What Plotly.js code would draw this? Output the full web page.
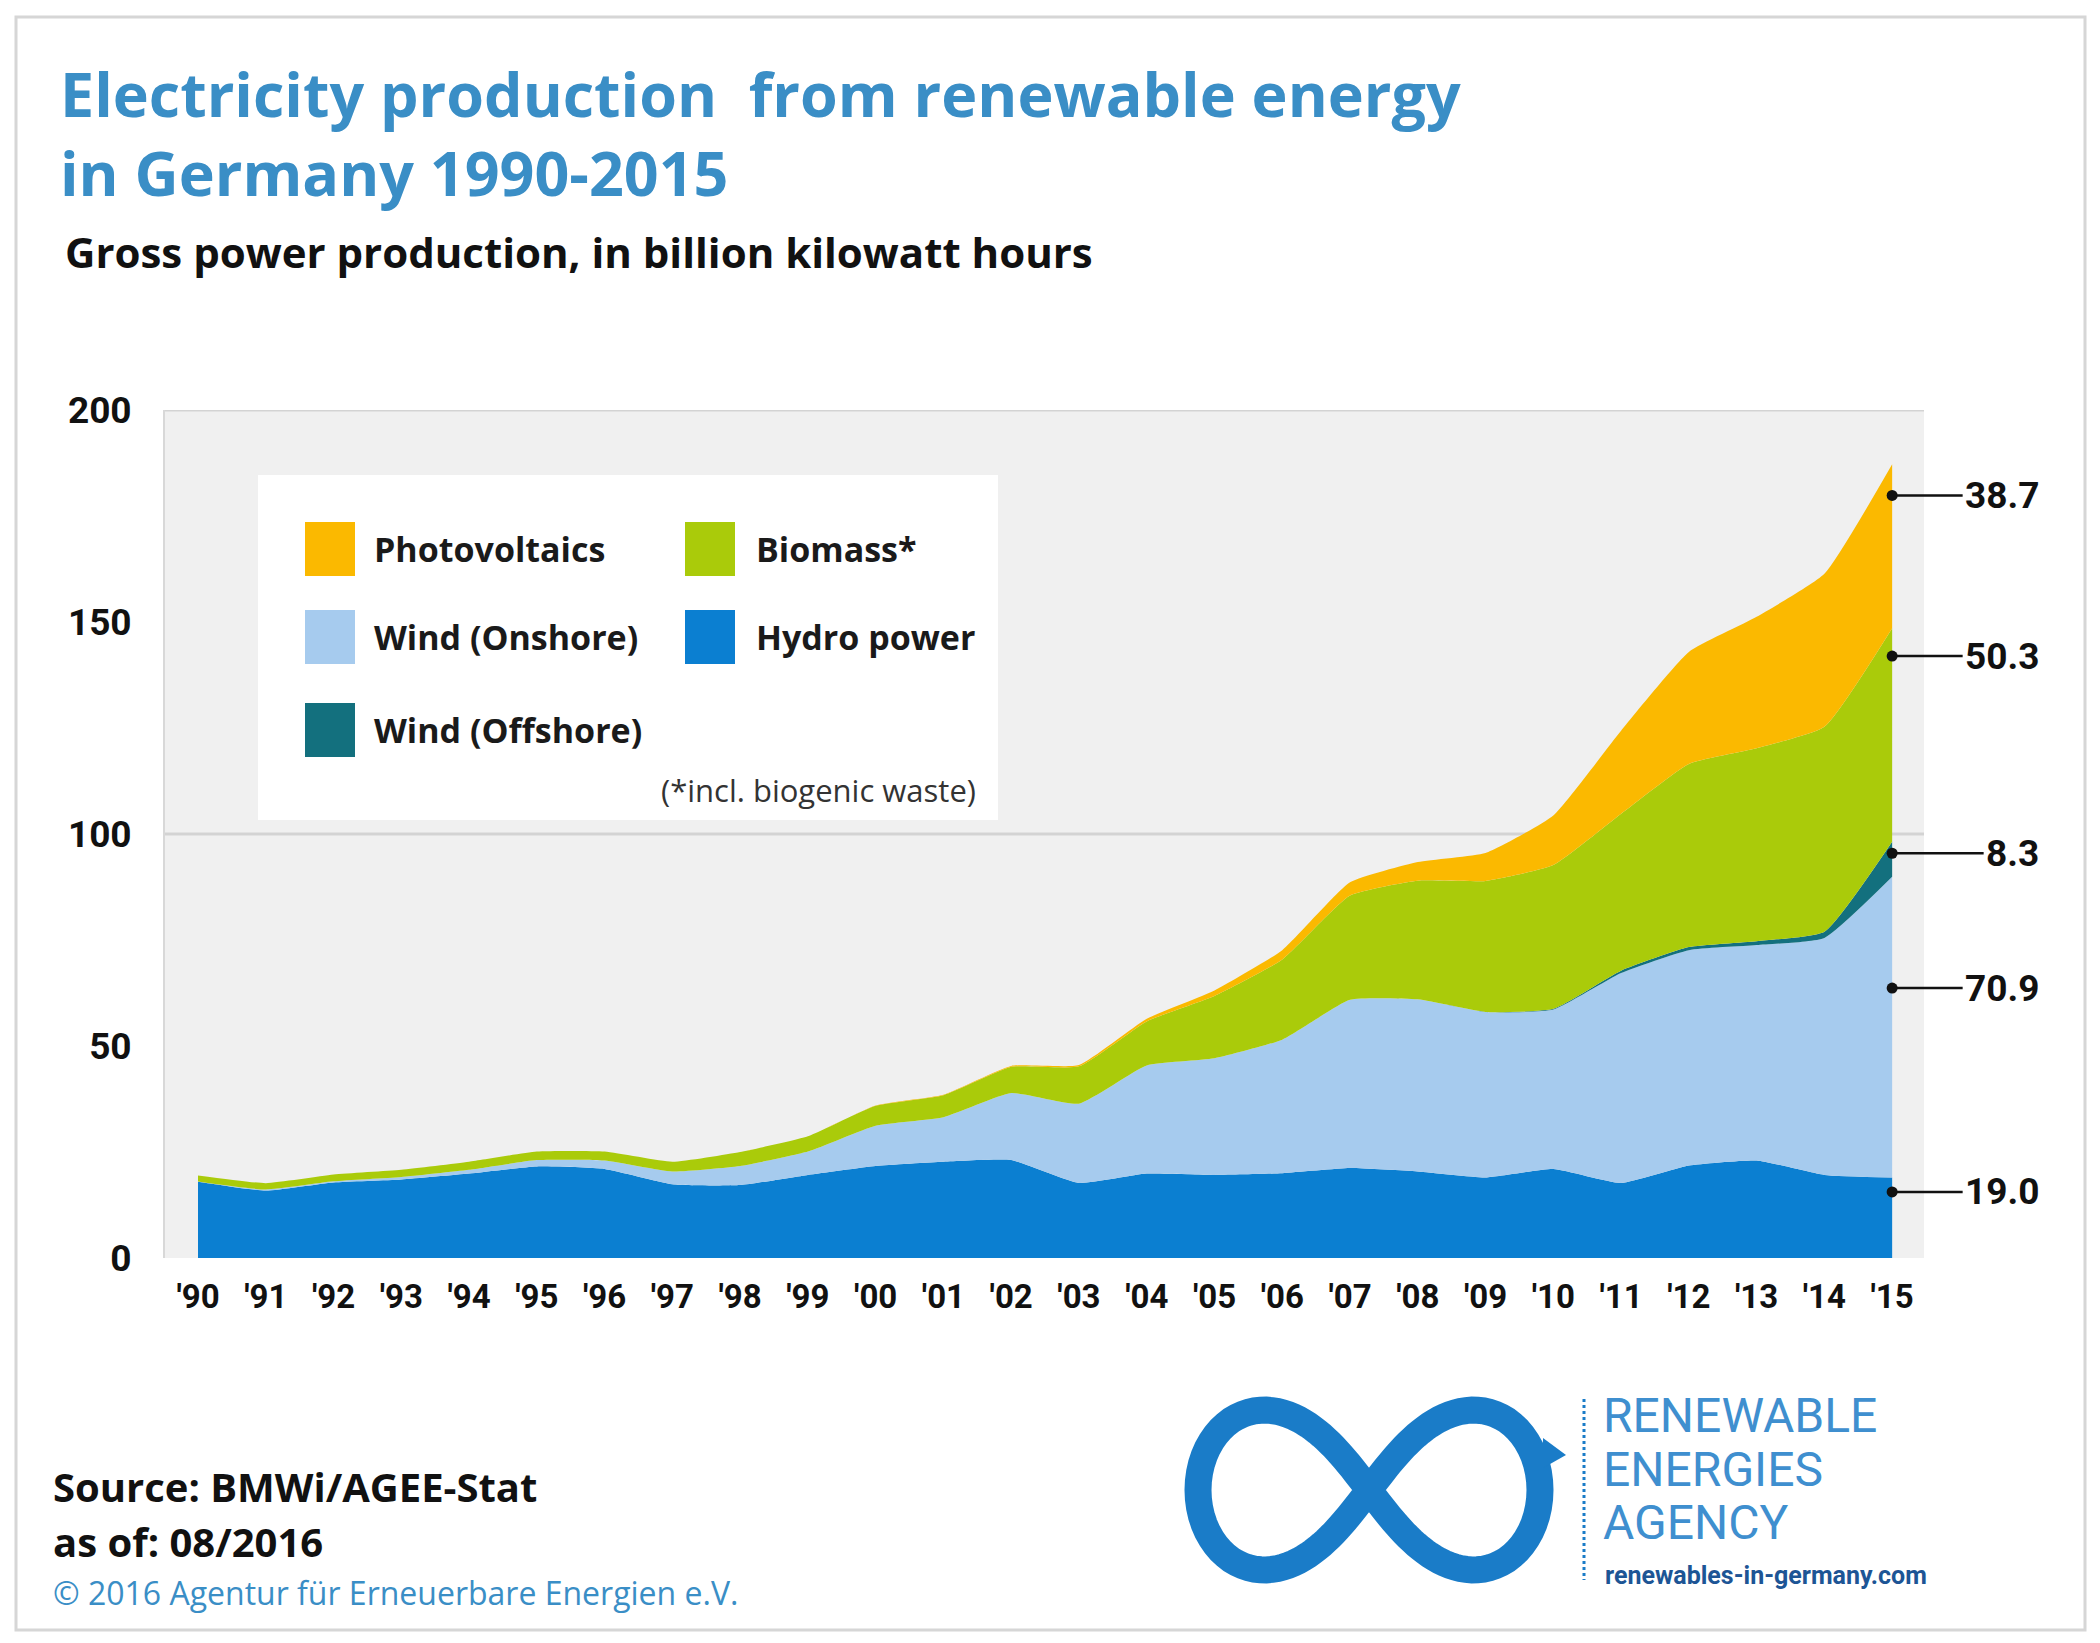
<!DOCTYPE html>
<html>
<head>
<meta charset="utf-8">
<script src="https://cdn.plot.ly/plotly-3.0.1.min.js"></script>
<style>
html,body{margin:0;padding:0;background:#ffffff;}
#chart{width:2100px;height:1643px;}
</style>
</head>
<body>
<div id="chart"></div>
<script>
// ---------------- DATA (billion kWh) ----------------
const years = [1990,1991,1992,1993,1994,1995,1996,1997,1998,1999,2000,2001,2002,2003,2004,2005,2006,2007,2008,2009,2010,2011,2012,2013,2014,2015];
const tickLabels = ["'90","'91","'92","'93","'94","'95","'96","'97","'98","'99","'00","'01","'02","'03","'04","'05","'06","'07","'08","'09","'10","'11","'12","'13","'14","'15"];
const yTickValues = [0,50,100,150,200];

const hydroPower    = [18.0,15.9,17.8,18.5,19.9,21.6,21.0,17.4,17.2,19.6,21.7,22.7,23.1,17.7,19.9,19.6,20.0,21.2,20.4,19.0,21.0,17.7,21.8,23.0,19.6,19.0];
const windOnshore   = [0.07,0.25,0.28,0.6,0.9,1.5,2.0,3.0,4.5,5.5,9.5,10.5,15.8,18.7,25.5,27.5,31.5,39.7,40.6,39.0,37.6,49.5,50.8,50.8,55.9,70.9];
const windOffshore  = [0,0,0,0,0,0,0,0,0,0,0,0,0,0,0,0,0,0,0,0.04,0.17,0.57,0.73,0.92,1.47,8.3];
const biomass       = [1.4,1.5,1.6,1.7,1.9,2.0,2.1,2.3,3.3,3.6,4.7,5.2,6.2,8.8,10.4,14.7,18.9,24.6,28.0,30.9,33.9,37.0,43.2,45.5,48.3,50.3];
const photovoltaics = [0,0,0,0,0,0,0,0,0,0,0.06,0.1,0.2,0.3,0.6,1.3,2.2,3.1,4.4,6.6,11.7,19.6,26.4,31.0,36.1,38.7];

const seriesNames = ["Hydro power","Wind (Onshore)","Wind (Offshore)","Biomass*","Photovoltaics"];
const seriesData  = [hydroPower, windOnshore, windOffshore, biomass, photovoltaics];

// ---------------- STYLE ----------------
const colors = ["#0b7fd1","#a6cbee","#13707e","#aacb0a","#fbb900"];
const FONT = "Roboto, 'Liberation Sans', Arial, sans-serif";
const FONT2 = "'Open Sans', Roboto, Arial, sans-serif";
const W = 2100, H = 1643;
const PL = 165, PR = 1924, PT = 410, PB = 1258;   // plot area in pixels
const px = X => (X - PL) / (PR - PL);
const py = Y => (PB - Y) / (PB - PT);

// ---------------- TRACES ----------------
const traces = seriesData.map((arr, i) => ({
  x: years, y: arr, name: seriesNames[i],
  type: 'scatter', mode: 'lines', stackgroup: 'one',
  line: {width: 0, shape: 'spline', smoothing: 0.45},
  fillcolor: colors[i],
  hovertemplate: seriesNames[i] + ' %{x}: %{y}<extra></extra>'
}));

// ---------------- SHAPES ----------------
const shapes = [];
// outer frame
shapes.push({type:'rect', xref:'paper', yref:'paper', x0:px(16), x1:px(2085), y0:py(17), y1:py(1630),
  line:{color:'#d6d6d6', width:3}, fillcolor:'rgba(0,0,0,0)', layer:'above'});
// grid lines at 100 and 200
[100, 200].forEach(v => shapes.push({type:'line', xref:'paper', yref:'y', x0:0, x1:1, y0:v, y1:v,
  line:{color:'#d3d3d3', width:3}, layer:'below'}));
// legend box
shapes.push({type:'rect', xref:'paper', yref:'paper', x0:px(258), x1:px(998), y0:py(475), y1:py(820),
  line:{width:0}, fillcolor:'#ffffff', layer:'below'});

// legend layout: [seriesIndex, column, row]
const legendItems = [[4,0,0],[3,1,0],[1,0,1],[0,1,1],[2,0,2]];
const colSwatch = [305, 685], colText = [372, 754], rowY = [549, 637, 730];
const annotations = [];
legendItems.forEach(([si, c, r]) => {
  shapes.push({type:'rect', xref:'paper', yref:'paper',
    x0:px(colSwatch[c]), x1:px(colSwatch[c]+50), y0:py(rowY[r]-27), y1:py(rowY[r]+27),
    line:{width:0}, fillcolor:colors[si], layer:'above'});
  annotations.push({xref:'paper', yref:'paper', x:px(colText[c]), y:py(rowY[r]), xanchor:'left', yanchor:'middle',
    text:seriesNames[si], showarrow:false, font:{family:FONT2, size:34, weight:700, color:'#1a1a1a'}});
});
annotations.push({xref:'paper', yref:'paper', x:px(978), y:py(790), xanchor:'right', yanchor:'middle',
  text:'(*incl. biogenic waste)', showarrow:false, font:{family:FONT2, size:31, color:'#333333'}});

// subtitle
annotations.push({xref:'paper', yref:'paper', x:px(63), y:py(252), xanchor:'left', yanchor:'middle',
  text:'Gross power production, in billion kilowatt hours', showarrow:false,
  font:{family:FONT2, size:42, weight:700, color:'#111111'}});

// right-hand value labels for 2015
const labelFrac = [0.82, 0.63, 0.67, 0.87, 0.81];
let base = 0;
seriesData.forEach((arr, i) => {
  const last = arr[arr.length - 1];
  annotations.push({xref:'x', yref:'y', x:years[years.length-1], y:base + labelFrac[i]*last,
    text:last.toFixed(1), showarrow:true, arrowhead:6, arrowsize:1.1, arrowwidth:2.5, arrowcolor:'#111',
    ax:150, ay:0, xanchor:'right', yanchor:'middle', borderpad:2,
    font:{family:FONT, size:37, weight:700, color:'#111'}});
  base += last;
});

// source texts
annotations.push({xref:'paper', yref:'paper', x:px(51), y:py(1486), xanchor:'left', yanchor:'middle',
  text:'Source: BMWi/AGEE-Stat', showarrow:false, font:{family:FONT2, size:40, weight:700, color:'#111'}});
annotations.push({xref:'paper', yref:'paper', x:px(51), y:py(1541), xanchor:'left', yanchor:'middle',
  text:'as of: 08/2016', showarrow:false, font:{family:FONT2, size:40, weight:700, color:'#111'}});
annotations.push({xref:'paper', yref:'paper', x:px(51), y:py(1592), xanchor:'left', yanchor:'middle',
  text:'© 2016 Agentur für Erneuerbare Energien e.V.', showarrow:false, font:{family:FONT2, size:32, color:'#3a8ec6'}});

// logo: infinity symbol
(function(){
  const cx = 1369, cy = 1490, ax = 171, ay = 226;
  let d = '';
  const N = 160;
  for (let k = 0; k <= N; k++) {
    const t = 2*Math.PI*k/N;
    const s = Math.sin(t), c = Math.cos(t), den = 1 + s*s;
    const X = cx + ax*c/den, Y = cy + ay*s*c/den;
    d += (k === 0 ? 'M' : 'L') + px(X).toFixed(5) + ',' + py(Y).toFixed(5) + ' ';
  }
  d += 'Z';
  shapes.push({type:'path', xref:'paper', yref:'paper', path:d, line:{color:'#1a7cc8', width:27}, fillcolor:'rgba(0,0,0,0)', layer:'above'});
  // small arrow tip on the right loop
  const tip = [[1543,1438],[1566,1455],[1543,1468]];
  shapes.push({type:'path', xref:'paper', yref:'paper',
    path:'M' + tip.map(p => px(p[0]).toFixed(5) + ',' + py(p[1]).toFixed(5)).join(' L') + ' Z',
    line:{width:0}, fillcolor:'#1a7cc8', layer:'above'});
  shapes.push({type:'line', xref:'paper', yref:'paper', x0:px(1584), x1:px(1584), y0:py(1399), y1:py(1580),
    line:{color:'#1a7cc8', width:3, dash:'dot'}, layer:'above'});
})();
const logoLines = ['RENEWABLE','ENERGIES','AGENCY'];
const logoY = [1415, 1469, 1522];
logoLines.forEach((t, i) => annotations.push({xref:'paper', yref:'paper', x:px(1601), y:py(logoY[i]), xanchor:'left', yanchor:'middle',
  text:t, showarrow:false, font:{family:FONT, size:48, color:'#3f8fcf'}}));
annotations.push({xref:'paper', yref:'paper', x:px(1603), y:py(1575), xanchor:'left', yanchor:'middle',
  text:'renewables-in-germany.com', showarrow:false, font:{family:FONT, size:25, weight:700, color:'#1d5595'}});

// ---------------- LAYOUT ----------------
const layout = {
  width: W, height: H,
  margin: {l: PL, r: W - PR, t: PT, b: H - PB, pad: 0},
  paper_bgcolor: '#ffffff', plot_bgcolor: '#f0f0f0',
  showlegend: false,
  font: {family: FONT, color: '#111'},
  title: {
    text: 'Electricity production  from renewable energy<br>in Germany 1990-2015',
    xref: 'container', yref: 'container', x: 60/W, xanchor: 'left', y: 1 - 117/H, yanchor: 'top',
    font: {family: FONT2, size: 61, weight: 700, color: '#3a8ec6'}
  },
  xaxis: {
    range: [1989.513, 2015.47], tickmode: 'array', tickvals: years, ticktext: tickLabels,
    tickfont: {family: FONT, size: 33, weight: 700, color: '#111'},
    showgrid: false, zeroline: false, showline: false, ticks: '', ticklabelstandoff: 16, fixedrange: true
  },
  yaxis: {
    range: [0, 200], tickmode: 'array', tickvals: yTickValues,
    tickfont: {family: FONT, size: 37, weight: 700, color: '#111'},
    showgrid: false, zeroline: false, showline: true, linecolor: '#d8d8d8', linewidth: 2,
    ticks: '', ticklabelstandoff: 24, fixedrange: true
  },
  shapes: shapes,
  annotations: annotations
};

Plotly.newPlot('chart', traces, layout, {displayModeBar: false, staticPlot: true});
</script>
</body>
</html>
